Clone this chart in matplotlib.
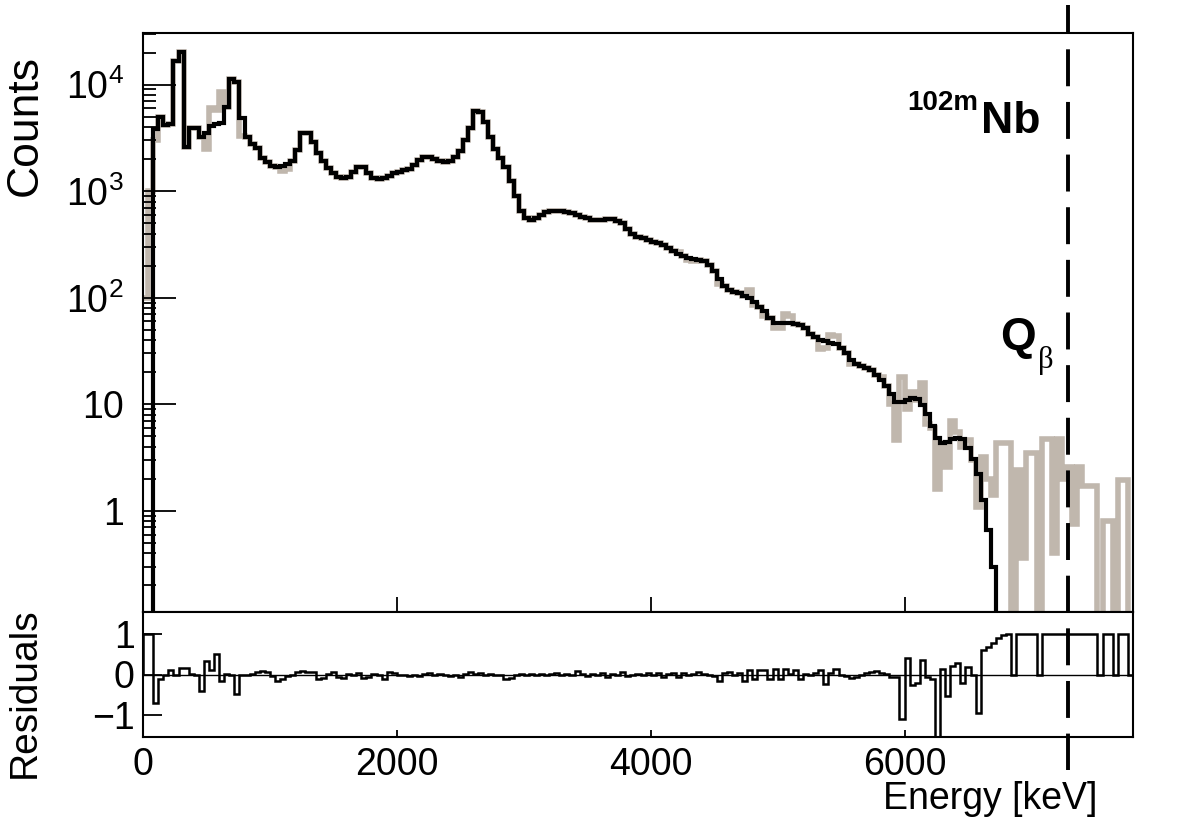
import numpy as np
import matplotlib
matplotlib.use("Agg")
from matplotlib import pyplot as plt
from matplotlib import transforms
from matplotlib.lines import Line2D
from matplotlib.ticker import FixedLocator, NullFormatter

plt.rcParams['font.family'] = ['Liberation Sans', 'DejaVu Sans']
plt.rcParams['mathtext.fontset'] = 'custom'
plt.rcParams['mathtext.rm'] = 'Liberation Sans'
plt.rcParams['mathtext.bf'] = 'Liberation Sans:bold'
plt.rcParams['lines.scale_dashes'] = False

# 40 keV bins, 0 - 7800 keV
bin_width = 40
e_max = 7800
q_beta = 7290

# fitted spectrum (black)
fit = [
    0, 0, 3800, 5000, 4200, 4300, 16500, 20400, 2600, 3900,
    3900, 3200, 3550, 4060, 4300, 4400, 6200, 11200, 10500, 4900,
    3240, 2750, 2560, 2050, 1860, 1740, 1700, 1740, 1800, 1900,
    2450, 3550, 3500, 2870, 2300, 1900, 1660, 1480, 1370, 1340,
    1370, 1520, 1700, 1690, 1480, 1330, 1290, 1330, 1400, 1480,
    1520, 1590, 1600, 1750, 1950, 2100, 2100, 2000, 1920, 1880,
    1900, 2100, 2400, 3000, 3900, 5600, 5500, 4500, 3200, 2500,
    2050, 1700, 1250, 900, 650, 560, 540, 560, 600, 640,
    650, 655, 650, 640, 620, 600, 575, 555, 540, 540,
    540, 545, 545, 530, 500, 440, 400, 375, 360, 345,
    335, 325, 310, 295, 275, 255, 245, 238, 232, 228,
    222, 205, 180, 150, 128, 118, 114, 110, 105, 99,
    92, 82, 75, 65, 58, 58, 58, 58, 57, 55,
    52, 46, 43, 40, 39, 38, 37, 34, 30, 26,
    24, 23, 22, 21, 19, 17, 15, 12.5, 10.6, 10.6,
    11, 11.5, 11.2, 9.9, 8.2, 6.2, 4.8, 4.3, 4.4, 4.7,
    4.8, 4.7, 3.9, 3.1, 2.2, 1.27, 0.66, 0.30, 0, 0,
    0, 0, 0, 0, 0, 0, 0, 0, 0, 0,
    0, 0, 0, 0, 0, 0, 0, 0, 0, 0,
    0, 0, 0, 0, 0,
]

# measured spectrum (grey): equal to the fit except in these bins
data_bins = [0, 1, 2, 12, 13, 14, 15, 19, 27, 28,
             105, 107, 108, 113, 119, 120, 122, 124, 125, 126,
             127, 133, 134, 135, 136, 139,
             145, 146, 147, 148, 149, 150, 151, 152, 153, 154,
             155, 156, 157, 158, 159, 160, 161, 162, 163, 164,
             165, 166, 167, 168, 169, 170, 171, 172, 173, 174,
             175, 176, 177, 178, 179, 180, 181, 182, 183, 184,
             185, 186, 187, 188, 189, 190, 191, 192, 193, 194]
data_vals = [100, 1000, 3000, 2500, 6000, 5800, 8500, 3300, 1550, 1600,
             270, 225, 222, 135, 118, 85, 68, 52, 52, 70,
             68, 33, 34, 45, 44, 24,
             18, 15, 10, 4.6, 18, 9, 13, 11, 16, 6.5,
             6, 1.6, 4.3, 2.6, 7, 5.5, 4.0, 4.6, 3.0, 1.1,
             3.2, 2.0, 1.4, 4.3, 4.3, 4.3, 0, 2.4, 0.36, 3.5,
             3.5, 0, 4.7, 4.7, 0.4, 4.7, 2.0, 2.6, 0.75, 2.6,
             1.7, 1.7, 1.7, 0, 0.8, 0.8, 0, 1.95, 1.95, 0]

# residuals (lower panel)
residuals = [
    1, 1, -0.7, -0.1, 0.0, 0.1, 0.0, 0.15, 0.15, 0.02,
    0.0, -0.42, 0.33, 0.1, 0.5, -0.15, 0.02, -0.02, -0.48, 0.0,
    -0.02, 0.02, 0.05, 0.08, 0.06, -0.03, -0.15, -0.1, -0.03, -0.02,
    0.05, 0.08, 0.05, 0.07, -0.1, -0.08, 0.02, 0.05, -0.07, -0.08,
    0.02, 0.0, 0.03, -0.08, -0.06, 0.02, 0.0, -0.1, 0.05, 0.03,
    0.0, -0.02, -0.03, 0.0, -0.04, 0.02, 0.03, 0.0, 0.02, 0.0,
    -0.03, 0.0, -0.06, 0.02, 0.05, 0.02, 0.03, 0.0, 0.02, -0.02,
    0.0, -0.1, -0.08, 0.0, 0.02, 0.0, 0.02, 0.0, 0.02, 0.0,
    0.02, 0.03, 0.0, 0.02, -0.02, 0.08, 0.02, -0.04, 0.02, 0.0,
    0.03, -0.06, 0.02, 0.0, 0.05, -0.03, 0.0, 0.02, -0.02, 0.03,
    0.0, 0.04, -0.05, 0.02, 0.03, -0.05, 0.04, 0.0, 0.02, 0.05,
    0.02, 0.0, -0.03, -0.16, 0.03, 0.05, 0.0, 0.04, -0.16, 0.12,
    -0.12, 0.1, 0.12, -0.12, 0.13, -0.12, 0.13, 0.02, 0.12, -0.1,
    0.02, 0.0, 0.03, 0.12, -0.24, 0.03, 0.13, 0.0, -0.03, -0.08,
    -0.05, 0.0, 0.03, 0.05, 0.08, 0.04, 0.02, -0.06, -0.06, -1.1,
    0.4, -0.25, -0.22, 0.37, -0.05, -0.1, -1.6, 0.14, -0.54, 0.22,
    0.28, -0.2, 0.18, -0.02, -0.95, 0.6, 0.67, 0.79, 0.91, 0.97,
    1, 0, 1, 1, 1, 1, 0, 1, 1, 1,
    1, 1, 1, 1, 1, 1, 1, 1, 0, 1,
    1, 0, 1, 1, 0,
]

edges = np.arange(0, e_max + bin_width, bin_width)
fit = np.array(fit, dtype=float)
data = fit.copy()
data[data_bins] = data_vals
residuals = np.array(residuals)

W, H = 1182, 819
fig = plt.figure(figsize=(W / 100, H / 100), dpi=100)
ax = fig.add_axes([143 / W, 1 - 612 / H, 990 / W, 579 / H])
axr = fig.add_axes([143 / W, 1 - 737 / H, 990 / W, 125 / H])

grey = '#c0b7ad'
ax.stairs(np.clip(data, 1e-3, None), edges, baseline=None, color=grey, lw=4.0)
ax.stairs(np.clip(fit, 1e-3, None), edges, baseline=None, color='black', lw=3.0)
ax.set_yscale('log')
ax.set_xlim(0, e_max)
ax.set_ylim(0.1126, 3.05e4)

ax.yaxis.set_major_locator(FixedLocator([1, 10, 100, 1e3, 1e4]))
ax.set_yticklabels(['1', '10', r'$10^{2}$', r'$10^{3}$', r'$10^{4}$'])
ax.yaxis.set_minor_locator(matplotlib.ticker.LogLocator(base=10, subs=np.arange(2, 10)))
ax.yaxis.set_minor_formatter(NullFormatter())
ax.set_xticks([0, 2000, 4000, 6000])
ax.tick_params(axis='x', which='both', direction='in', length=11, width=1.3,
               labelbottom=False, top=False)
ax.tick_params(axis='y', which='major', direction='in', length=24, width=1.3,
               labelsize=27, pad=14, right=False)
ax.tick_params(axis='y', which='minor', direction='in', length=9, width=1.3, right=False)
for s in ax.spines.values():
    s.set_linewidth(1.5)

axr.stairs(residuals, edges, baseline=0, color='black', lw=1.8)
axr.axhline(0, color='black', lw=1.0)
axr.set_xlim(0, e_max)
axr.set_ylim(-1.55, 1.55)
axr.set_xticks([0, 2000, 4000, 6000])
axr.set_xticklabels(['0', '2000', '4000', '6000'])
axr.set_yticks([-1, 0, 1])
axr.set_yticklabels(['\u22121', '0', '1'])
axr.tick_params(axis='x', direction='in', length=5, width=1.3, labelsize=27, pad=7)
axr.tick_params(axis='y', direction='in', length=14, width=1.3, labelsize=27, pad=6)
for s in axr.spines.values():
    s.set_linewidth(1.5)

# Q-beta marker across both panels
trans = transforms.blended_transform_factory(ax.transData, fig.transFigure)
fig.add_artist(Line2D([q_beta, q_beta], [1 - 5 / H, 1 - 770 / H], transform=trans,
                      color='black', lw=2.8, linestyle=(6, (26.6, 11.3))))

fig.text(25 / W, 1 - 55 / H, 'Counts', rotation=90, ha='center', va='top', fontsize=32)
fig.text(25 / W, 1 - 778 / H, 'Residuals', rotation=90, ha='center', va='bottom', fontsize=28)
fig.text(1097 / W, 1 - 817 / H, 'Energy [keV]', ha='right', va='bottom', fontsize=27)

fig.text(978 / W, 1 - 110 / H, '102m', ha='right', va='baseline', fontsize=20, fontweight='bold')
fig.text(1040 / W, 1 - 133 / H, 'Nb', ha='right', va='baseline', fontsize=32, fontweight='bold')
fig.text(1000 / W, 1 - 350 / H, 'Q', ha='left', va='baseline', fontsize=33, fontweight='bold')
fig.text(1038 / W, 1 - 368 / H, '\u03b2', ha='left', va='baseline', fontsize=22,
         family=['Liberation Serif', 'DejaVu Serif'])

fig.savefig('out.png', dpi=100)
